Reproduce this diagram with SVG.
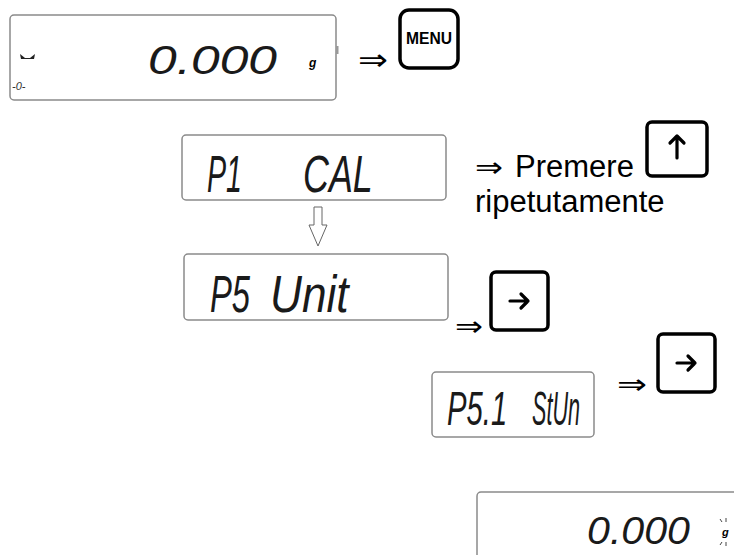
<svg xmlns="http://www.w3.org/2000/svg" width="734" height="555" viewBox="0 0 734 555">
<style>
.lcd{fill:#fff;stroke:#8a8a8a;stroke-width:1.5}
.seg{font-family:"Liberation Sans",Arial,sans-serif;font-style:italic;fill:#1a1a1a}
.key{fill:#fff;stroke:#000;stroke-width:3.5}
.lbl{font-family:"Liberation Sans",Arial,sans-serif;font-size:31px;fill:#000}
.imp{font-family:"DejaVu Sans",sans-serif;fill:#000}
.arr{fill:none;stroke:#000;stroke-width:3.2;stroke-linecap:round;stroke-linejoin:round}
</style>
<rect width="734" height="555" fill="#fff"/>
<g id="display1">
<rect class="lcd" x="10" y="15" width="326" height="85" rx="4"/>
<rect x="336" y="46" width="2.5" height="8" fill="#999"/>
<path d="M20 54 L25 58 L30 58 L35 54 L34 59 L21 59 Z" fill="#222"/>
<text x="12" y="90" font-family="Liberation Sans,sans-serif" font-size="11" font-style="italic" fill="#333">-0-</text>
<text class="seg" x="148" y="74" font-size="41" textLength="129" lengthAdjust="spacingAndGlyphs">0.000</text>
<text x="309" y="67" font-family="Liberation Sans,sans-serif" font-size="12" font-weight="bold" font-style="italic">g</text>
</g>
<g id="arrow1"><text class="imp" x="358" y="70" font-size="30" textLength="30" lengthAdjust="spacingAndGlyphs">⇒</text></g>
<g id="menu-key">
<rect class="key" x="400" y="10" width="58" height="58" rx="9"/>
<text x="429" y="44" text-anchor="middle" font-family="Liberation Sans,sans-serif" font-size="16" font-weight="bold" textLength="46" lengthAdjust="spacingAndGlyphs">MENU</text>
</g>
<g id="display2">
<rect class="lcd" x="182" y="135" width="264" height="65" rx="4"/>
<text class="seg" transform="translate(207,192) scale(0.55,1)" font-size="52">P1</text>
<text class="seg" transform="translate(303,192) scale(0.69,1)" font-size="52">CAL</text>
</g>
<g id="step-text">
<text class="imp" x="475" y="177" font-size="28" textLength="28" lengthAdjust="spacingAndGlyphs">⇒</text>
<text class="lbl" x="515" y="177">Premere</text>
<text class="lbl" x="475" y="212">ripetutamente</text>
</g>
<g id="up-key">
<rect class="key" x="647" y="122" width="60" height="54" rx="5"/>
<path class="arr" d="M677 158 V136 M670 143 L677 136 L684 143"/>
</g>
<g id="display3">
<rect class="lcd" x="184" y="254" width="264" height="66" rx="4"/>
<text class="seg" transform="translate(210,312) scale(0.63,1)" font-size="52">P5</text>
<text class="seg" transform="translate(270,312) scale(0.85,1)" font-size="52">Unit</text>
</g>
<g id="arrow3"><text class="imp" x="455" y="336" font-size="28" textLength="28" lengthAdjust="spacingAndGlyphs">⇒</text></g>
<g id="right-key1">
<rect class="key" x="491" y="272" width="57" height="58" rx="5"/>
<path class="arr" d="M510 301 H528 M521 294 L528 301 L521 308"/>
</g>
<g id="display4">
<rect class="lcd" x="432" y="372" width="162" height="65" rx="4"/>
<text class="seg" transform="translate(447,425) scale(0.61,1)" font-size="48">P5.1</text>
<text class="seg" transform="translate(532,425) scale(0.45,1)" font-size="48">StUn</text>
</g>
<g id="arrow4"><text class="imp" x="617" y="394" font-size="28" textLength="30" lengthAdjust="spacingAndGlyphs">⇒</text></g>
<g id="right-key2">
<rect class="key" x="658" y="334" width="57" height="58" rx="5"/>
<path class="arr" d="M677 363 H695 M688 356 L695 363 L688 370"/>
</g>
<g id="display5">
<rect class="lcd" x="477" y="492" width="300" height="90" rx="4"/>
<text class="seg" x="587" y="544" font-size="38" textLength="103" lengthAdjust="spacingAndGlyphs">0.000</text>
<path d="M720 519 l2 3 M726 518 v4 M720 545 l2 -3 M726 546 v-4" stroke="#444" stroke-width="1" fill="none"/>
<text x="722" y="536" font-family="Liberation Sans,sans-serif" font-size="11" font-weight="bold" font-style="italic">g</text>
</g>
<g id="connectors">
<path d="M314 207 H322 V225 H327 L318 246 L309 225 H314 Z" fill="#fff" stroke="#666" stroke-width="1"/>
</g>
</svg>
